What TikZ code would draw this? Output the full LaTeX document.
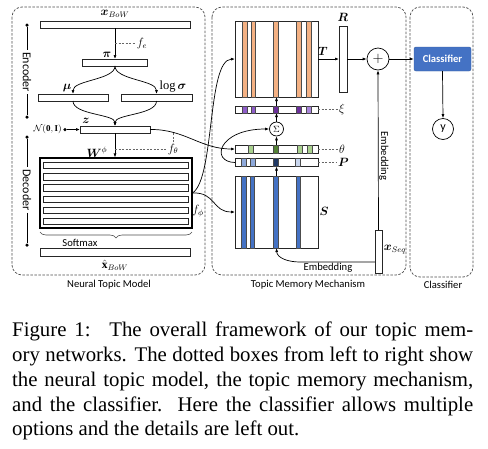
\documentclass[tikz,border=0pt]{standalone}
\usepackage{amsmath,amssymb}
\usepackage{fontspec}
\setmainfont{Liberation Serif}
\setsansfont{Carlito}
\usetikzlibrary{arrows.meta,decorations.pathreplacing,calc}

\definecolor{memorange}{HTML}{F4B183}
\definecolor{ximid}{HTML}{8E5CC9}
\definecolor{xidark}{HTML}{6B2F9B}
\definecolor{xilight}{HTML}{A884DA}
\definecolor{thlight}{HTML}{A9D18E}
\definecolor{thdark}{HTML}{548235}
\definecolor{sblue}{HTML}{4472C4}
\definecolor{plight}{HTML}{8EA9DB}
\definecolor{pdark}{HTML}{1F3864}
\definecolor{ppale}{HTML}{C9D6EE}

\begin{document}
\begin{tikzpicture}[x=1pt, y=-1pt, font=\sffamily\fontsize{10.6}{12}\selectfont,
		bar/.style={draw=black!85, line width=0.7pt, fill=white, inner sep=0pt, outer sep=0pt},
		mem/.style={draw=black!85, line width=0.7pt, inner sep=0pt, outer sep=0pt},
		stripe/.style={draw=black!70, line width=0.4pt},
		arr/.style={-{Latex[length=4pt, width=3pt]}, line width=0.7pt},
		guide/.style={draw=black!60, line width=0.5pt, dash pattern=on 2pt off 1.5pt},
		panel/.style={draw=black!70, line width=0.7pt, dash pattern=on 2.5pt off 1.5pt, rounded corners=10pt},
		lab/.style={inner sep=1pt, font=\fontsize{11.5}{12}\selectfont},
		dot/.style={circle, fill=black, inner sep=0pt, minimum size=3.5pt},
		op/.style={circle, draw, line width=0.7pt, inner sep=0pt}]
	\useasboundingbox (0,0) rectangle (488,448);
	
	% panels
	\draw[panel] (12,7) rectangle (205,275);
	\draw[panel] (212,7) rectangle (406,275);
	\draw[panel] (410,7) rectangle (473,277);
	\node (ntm) at (109,285) {Neural Topic Model};
	\node (tmm) at (308,285) {Topic Memory Mechanism};
	\node (clf) at (443,285) {Classifier};
	
	% encoder
	\node[bar, minimum width=150pt, minimum height=7pt] (xbow) at (115,24.5) {};
	\node[bar, minimum width=65pt, minimum height=7pt] (pi) at (115,62.5) {};
	\node[bar, minimum width=70pt, minimum height=7pt] (mu) at (73,97.5) {};
	\node[bar, minimum width=71pt, minimum height=7pt] (lsig) at (156.5,97.5) {};
	\node[bar, minimum width=70pt, minimum height=7pt] (z) at (115,129.5) {};
	\node[dot] (ndot) at (65,129.5) {};
	\node[dot] (enctop) at (27,25) {};
	\node[dot] (encbot) at (27,117) {};
	\node[rotate=-90, inner sep=2pt, font=\sffamily\fontsize{12}{13}\selectfont] (enc) at (27,72) {Encoder};
	
	% decoder
	\node[draw, line width=1.1pt, minimum width=152pt, minimum height=70pt, inner sep=0pt] (W) at (116,193) {};
	\node[bar, minimum width=145pt, minimum height=6.5pt] (w1) at (115.5,165.5) {};
	\node[bar, minimum width=145pt, minimum height=6.5pt] (w2) at (115.5,176.7) {};
	\node[bar, minimum width=145pt, minimum height=6.5pt] (w3) at (115.5,187.9) {};
	\node[bar, minimum width=145pt, minimum height=6.5pt] (w4) at (115.5,199.1) {};
	\node[bar, minimum width=145pt, minimum height=6.5pt] (w5) at (115.5,210.3) {};
	\node[bar, minimum width=145pt, minimum height=6.5pt] (w6) at (115.5,221.5) {};
	\draw[decorate, decoration={brace, mirror, amplitude=6pt}, line width=0.6pt, draw=black!70] (40,232) -- (192,232);
	\node (smax) at (80,243) {Softmax};
	\node[bar, minimum width=150pt, minimum height=8pt] (xhat) at (115,252) {};
	\node[dot] (dectop) at (27,137) {};
	\node[dot] (decbot) at (27,245) {};
	\node[rotate=-90, inner sep=2pt, font=\sffamily\fontsize{12}{13}\selectfont] (dec) at (27,190) {Decoder};
	
	% memory
	\node[mem, minimum width=83pt, minimum height=76pt] (T) at (276.5,59) {};
	\node[mem, minimum width=8pt, minimum height=66pt] (R) at (343,59) {};
	\node[op, minimum size=22pt, font=\fontsize{15}{15}\selectfont] (plus) at (378,59) {$+$};
	\node[bar, minimum width=83pt, minimum height=7pt] (xi) at (276.5,109.5) {};
	\node[op, minimum size=14pt, font=\fontsize{9}{9}\selectfont] (sig) at (276.5,129) {$\Sigma$};
	\node[bar, minimum width=83pt, minimum height=8pt] (theta) at (276.5,149) {};
	\node[bar, minimum width=83pt, minimum height=8pt] (P) at (276.5,162.5) {};
	\node[mem, minimum width=83pt, minimum height=72pt] (S) at (276.5,212) {};
	\node[bar, minimum width=7pt, minimum height=43pt] (xseq) at (378.5,251.5) {};
	
	% stripes
	\draw[stripe, fill=memorange] (241.7,21) rectangle (246.7,97);
	\draw[stripe, fill=memorange] (250.7,21) rectangle (255.3,97);
	\draw[stripe, fill=memorange] (273.5,21) rectangle (278.5,97);
	\draw[stripe, fill=memorange] (296,21) rectangle (301,97);
	\draw[stripe, fill=memorange] (305.8,21) rectangle (310.8,97);
	\draw[stripe, fill=ximid] (241.7,106) rectangle (246.7,113);
	\draw[stripe, fill=ximid] (250.7,106) rectangle (255.3,113);
	\draw[stripe, fill=xidark] (273.5,106) rectangle (278.5,113);
	\draw[stripe, fill=xidark] (296,106) rectangle (301,113);
	\draw[stripe, fill=xilight] (305.8,106) rectangle (310.8,113);
	\draw[stripe, fill=thlight] (248,145) rectangle (253,153);
	\draw[stripe, fill=thdark] (273.5,145) rectangle (278.5,153);
	\draw[stripe, fill=thlight] (297.5,145) rectangle (302.5,153);
	\draw[stripe, fill=thlight] (306.7,145) rectangle (311.7,153);
	\draw[stripe, fill=plight] (240.7,158.5) rectangle (245.7,166.5);
	\draw[stripe, fill=plight] (250,158.5) rectangle (255,166.5);
	\draw[stripe, fill=pdark] (273.5,158.5) rectangle (278.5,166.5);
	\draw[stripe, fill=ppale] (295.5,158.5) rectangle (300.5,166.5);
	\draw[stripe, fill=sblue] (241,176) rectangle (246,248);
	\draw[stripe, fill=sblue] (250,176) rectangle (254.5,248);
	\draw[stripe, fill=sblue] (273.5,176) rectangle (278.5,248);
	\draw[stripe, fill=sblue] (295.7,176) rectangle (300.3,248);
	
	% classifier
	\node[fill=sblue, draw=sblue!80!black, rounded corners=2pt, minimum width=57pt, minimum height=24pt,
		text=white, font=\sffamily\bfseries\fontsize{10.6}{12}\selectfont] (cls) at (442.5,59) {Classifier};
	\node[op, minimum size=21pt, font=\sffamily\fontsize{12}{12}\selectfont] (y) at (443,129) {y};
	
	% variables
	\node[lab] (xbowlab) at (115,14) {$\boldsymbol{x}_{BoW}$};
	\node[lab] (pilab) at (107,55) {$\boldsymbol{\pi}$};
	\node[lab] (fe) at (142,43.5) {$f_e$};
	\node[lab] (mulab) at (67,88) {$\boldsymbol{\mu}$};
	\node[lab, font=\fontsize{12.5}{13}\selectfont] (lsiglab) at (173,87) {$\log\boldsymbol{\sigma}$};
	\node[lab] (zlab) at (86,121) {$\boldsymbol{z}$};
	\node[lab, anchor=east, font=\fontsize{9}{10}\selectfont] (nlab) at (63,129.5) {$\mathcal{N}(\mathbf{0},\mathbf{I})$};
	\node[lab] (wlab) at (97,152) {$\boldsymbol{W}^{\phi}$};
	\node[lab] (fth) at (173,149) {$f_\theta$};
	\node[lab] (fph) at (198,211) {$f_\phi$};
	\node[lab] (xhatlab) at (115,265) {$\hat{\mathbf{x}}_{BoW}$};
	\node[lab] (Tlab) at (323,51) {$\boldsymbol{T}$};
	\node[lab] (Rlab) at (343,17) {$\boldsymbol{R}$};
	\node[lab, anchor=west] (xilab) at (338,109.5) {$\xi$};
	\node[lab, anchor=west] (thlab) at (338,149) {$\theta$};
	\node[lab, anchor=west] (Plab) at (337,162.5) {$\boldsymbol{P}$};
	\node[lab] (Slab) at (324,211) {$\boldsymbol{S}$};
	\node[lab] (xseqlab) at (395,250) {$\boldsymbol{x}_{Seq}$};
	\node[rotate=-90] (emb1) at (384,156) {Embedding};
	\node (emb2) at (328,268) {Embedding};
	
	% arrows
	\draw[line width=0.6pt] (enctop) -- (enc) -- (encbot);
	\draw[line width=0.6pt] (dectop) -- (dec) -- (decbot);
	\draw[arr] (xbow.south) -- (pi.north);
	\coordinate (fein) at ($(xbow.south)!0.5!(pi.north)$);
	\draw[guide] (fein) -- (fe.west);
	\draw[arr] (pi.south) .. controls +(0,14) and +(0,-14) .. (mu.north);
	\draw[arr] (pi.south) .. controls +(0,14) and +(0,-14) .. (lsig.north);
	\draw[arr] (mu.south) .. controls +(0,14) and +(0,-12) .. (z.north);
	\draw[arr] (lsig.south) .. controls +(0,14) and +(0,-12) .. (z.north);
	\draw[arr] (ndot) -- (z.west);
	\draw[arr] (z.south) -- (z.south |- W.north);
	\coordinate (fthin) at (z.south |- fth.west);
	\draw[guide] (fthin) -- (fth.west);
	\draw[arr] (z.east) .. controls (185,129) and (200,149) .. (theta.west) coordinate[pos=0.25] (zth);
	\draw[guide] (fth.north) -- (fth.north |- zth);
	\draw[arr] (W.east) .. controls (215,178) and (207,60) .. (T.west);
	\draw[arr] (W.east) .. controls (216,192) and (212,212) .. (S.west);
	\draw[arr] (theta.north) -- (sig.south);
	\draw[arr] (sig.north) -- (xi.south);
	\draw[arr] (xi.north) -- (T.south);
	\draw[arr] (S.north) -- (P.south);
	\draw[arr] (P.west) .. controls (210,162) and (218,129) .. (sig.west);
	\draw[guide] (xi.east) -- (xilab.west);
	\draw[guide] (theta.east) -- (thlab.west);
	\draw[guide] (P.east) -- (Plab.west);
	\draw[arr] (T.east) -- (R.west);
	\draw[arr] (R.east) -- (plus.west);
	\draw[arr] (plus.east) -- (cls.west);
	\draw[arr] (cls.south) -- (y.north);
	\draw[arr] (xseq.north) -- (plus.south);
	\coordinate (embturn) at (300,262);
	\draw[arr] (xseq.west |- embturn) -- (embturn) .. controls (288,262) and (277,258) .. (S.south);
	
	% caption
	\node[anchor=base west, inner sep=0pt, font=\rmfamily\fontsize{20.8}{24.8}\selectfont] (cap) at (12,336.7)
		{\parbox[t]{461pt}{Figure 1:\hspace{0.9em}The overall framework of our topic mem-\linebreak
		ory networks. The dotted boxes from left to right show\linebreak
		the neural topic model, the topic memory mechanism,\linebreak
		and the classifier.\ \ Here the classifier allows multiple\linebreak
		options and the details are left out.}};
\end{tikzpicture}
\end{document}
